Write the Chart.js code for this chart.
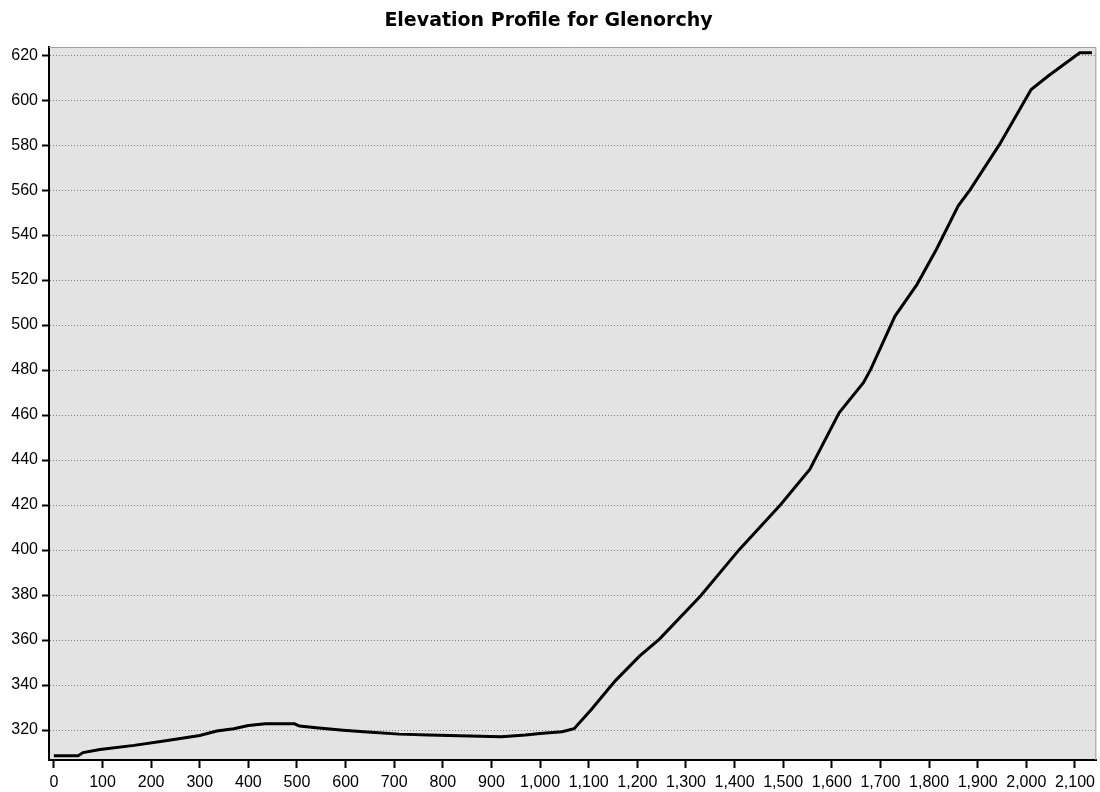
<!DOCTYPE html>
<html>
<head>
<meta charset="utf-8">
<script src="https://cdn.jsdelivr.net/npm/chart.js@4"></script>
<style>
  html, body { margin: 0; padding: 0; background: #fff; }
  #wrap { width: 1100px; height: 792px; }
</style>
</head>
<body>
<div id="wrap"><canvas id="profileChart" width="1100" height="792"></canvas></div>
<script>
"use strict";

// distance along track (m) and elevation (m)
const distances = [0, 50, 60, 95, 165, 230, 300, 335, 370, 400, 435, 495, 505, 545, 595, 645, 710, 770,
    920, 970, 1000, 1045, 1070, 1105, 1155, 1205, 1245, 1330, 1410, 1495, 1555, 1615, 1665, 1680,
    1730, 1775, 1815, 1860, 1885, 1945, 2010, 2045, 2110, 2135];
const elevations = [308.6, 308.6, 310, 311.4, 313.2, 315.3, 317.6, 319.6, 320.6, 322, 322.8, 322.8, 321.8, 320.9,
    319.9, 319.1, 318.2, 317.8, 317, 317.8, 318.5, 319.3, 320.6, 329, 342, 353, 360.3, 379.6, 400.3,
    420.3, 436, 461, 474.4, 480.3, 504, 518, 533.6, 553, 560.3, 580.3, 604.7, 610.7, 621, 621];

const xRange = [-10, 2144];
const yRange = [306.7, 623.6];
const titleText = 'Elevation Profile for Glenorchy';

const points = distances.map((d, i) => ({ x: d, y: elevations[i] }));

// grey plot background + light frame on top/right
const plotFrame = {
    id: 'plotFrame',
    beforeDraw(chart) {
        const { ctx, chartArea: a } = chart;
        ctx.save();
        ctx.fillStyle = '#e3e3e3';
        ctx.fillRect(a.left, a.top, a.right - a.left, a.bottom - a.top);
        ctx.restore();
    },
    afterDraw(chart) {
        const { ctx, chartArea: a } = chart;
        ctx.save();
        ctx.strokeStyle = '#a0a0a0';
        ctx.lineWidth = 1;
        ctx.beginPath();
        ctx.moveTo(a.left, a.top + 0.5);
        ctx.lineTo(a.right - 0.5, a.top + 0.5);
        ctx.lineTo(a.right - 0.5, a.bottom);
        ctx.stroke();
        ctx.restore();
    }
};

const tickFont = { family: '"Liberation Sans", Arial, sans-serif', size: 16 };

new Chart(document.getElementById('profileChart'), {
    type: 'line',
    data: {
        datasets: [{
            data: points,
            borderColor: '#000',
            borderWidth: 3,
            pointRadius: 0,
            tension: 0,
            fill: false
        }]
    },
    options: {
        responsive: false,
        animation: false,
        layout: { padding: { left: 0, right: 3, top: 0, bottom: 0 } },
        plugins: {
            legend: { display: false },
            tooltip: { enabled: false },
            title: {
                display: true,
                text: titleText,
                color: '#000',
                font: { family: '"DejaVu Sans", sans-serif', size: 19, weight: 'bold', lineHeight: 1.2 },
                padding: { top: 9.6, bottom: 14.6 }
            }
        },
        scales: {
            x: {
                type: 'linear',
                min: xRange[0],
                max: xRange[1],
                afterFit(scale) { scale.height = 32; },
                border: { display: true, color: '#000', width: 2 },
                grid: { drawOnChartArea: false, drawTicks: true, tickLength: 8, tickColor: '#000', tickWidth: 2 },
                ticks: {
                    stepSize: 100,
                    includeBounds: false,
                    autoSkip: false,
                    maxRotation: 0,
                    padding: 5,
                    color: '#000',
                    font: tickFont,
                    callback: v => v.toLocaleString('en-US')
                }
            },
            y: {
                min: yRange[0],
                max: yRange[1],
                afterFit(scale) { scale.width = 49; },
                border: { display: true, color: '#000', width: 2, dash: [1, 2] },
                grid: { color: '#808080', lineWidth: 1, drawTicks: true, tickLength: 7, tickColor: '#000', tickWidth: 2 },
                ticks: {
                    stepSize: 20,
                    includeBounds: false,
                    padding: 4,
                    color: '#000',
                    font: tickFont
                }
            }
        }
    },
    plugins: [plotFrame]
});
</script>
</body>
</html>
